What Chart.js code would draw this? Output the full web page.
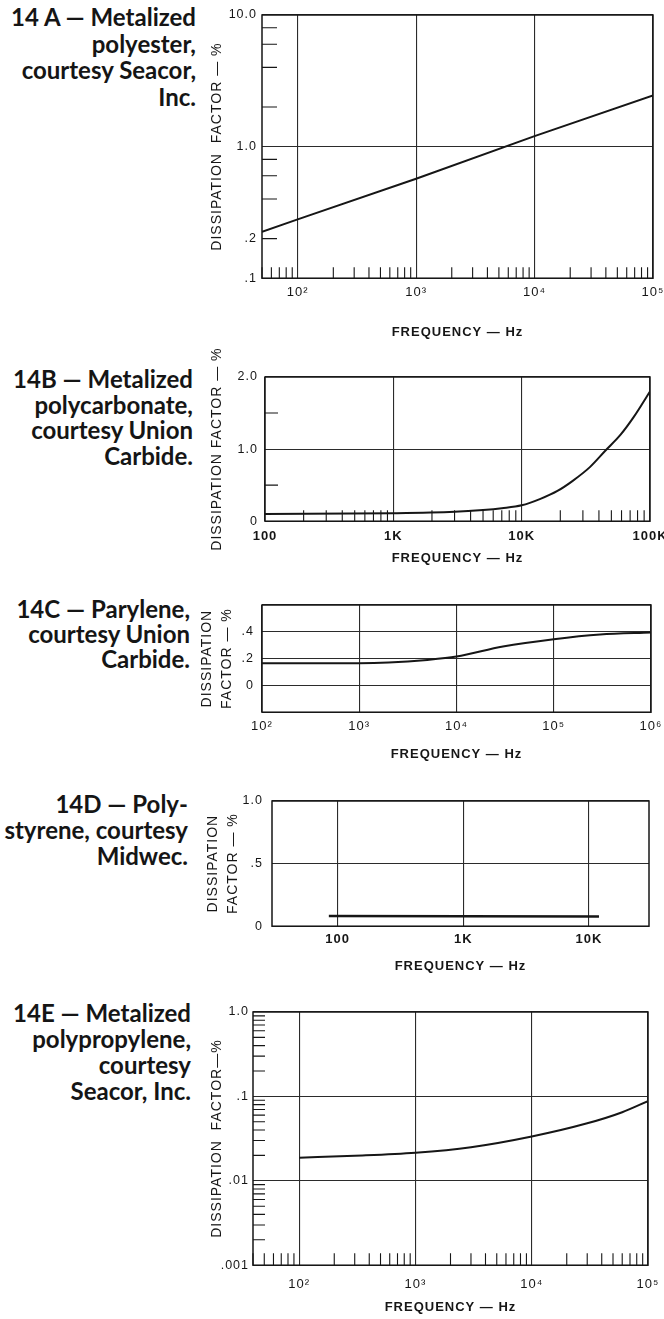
<!DOCTYPE html>
<html>
<head>
<meta charset="utf-8">
<script src="https://cdn.jsdelivr.net/npm/chart.js@4.4.1/dist/chart.umd.min.js"></script>
<style>
  html, body { margin: 0; padding: 0; background: #fff; }
  body { width: 664px; height: 1319px; position: relative; overflow: hidden; }
  .cap {
    position: absolute; left: 0; text-align: right; white-space: nowrap;
    font-family: Lato, "Open Sans", sans-serif; font-weight: 700; font-size: 24px; color: #151515;
  }
  canvas { position: absolute; left: 0; }
</style>
</head>
<body>
<div class="cap" style="top:4px;width:196px;line-height:26.7px">14 A — Metalized<br>polyester,<br>courtesy Seacor,<br>Inc.</div>
<div class="cap" style="top:366px;width:193px;line-height:25.5px">14B — Metalized<br>polycarbonate,<br>courtesy Union<br>Carbide.</div>
<div class="cap" style="top:596px;width:190px;line-height:25px">14C — Parylene,<br>courtesy Union<br>Carbide.</div>
<div class="cap" style="top:791px;width:188px;line-height:25.8px">14D — Poly-<br>styrene, courtesy<br>Midwec.</div>
<div class="cap" style="top:1000px;width:191px;line-height:25.9px">14E — Metalized<br>polypropylene,<br>courtesy<br>Seacor, Inc.</div>

<canvas id="chartA"></canvas>
<canvas id="chartB"></canvas>
<canvas id="chartC"></canvas>
<canvas id="chartD"></canvas>
<canvas id="chartE"></canvas>

<script>
// 14A - metalized polyester
const freqA = [50, 100, 1000, 10000, 100000];
const dfA = [0.225, 0.28, 0.57, 1.2, 2.45];
const xTicksA = [100, 1000, 10000, 100000];
const xLabelsA = ['10²', '10³', '10⁴', '10⁵'];
const yTicksA = [0.1, 0.2, 1, 10];
const yLabelsA = ['.1', '.2', '1.0', '10.0'];

// 14B - metalized polycarbonate
const freqB = [100, 1000, 3000, 5000, 7000, 10000, 14000, 19000, 25000, 34000, 45000, 59000, 75000, 100000];
const dfB = [0.1, 0.11, 0.13, 0.155, 0.18, 0.22, 0.31, 0.42, 0.56, 0.75, 0.98, 1.2, 1.45, 1.8];
const xTicksB = [100, 1000, 10000, 100000];
const xLabelsB = ['100', '1K', '10K', '100K'];
const yTicksB = [0, 1, 2];
const yLabelsB = ['0', '1.0', '2.0'];

// 14C - parylene
const freqC = [100, 1000, 2000, 5000, 10000, 30000, 100000, 300000, 1000000];
const dfC = [0.165, 0.165, 0.17, 0.19, 0.215, 0.29, 0.345, 0.38, 0.395];
const xTicksC = [100, 1000, 10000, 100000, 1000000];
const xLabelsC = ['10²', '10³', '10⁴', '10⁵', '10⁶'];
const yTicksC = [-0.2, 0, 0.2, 0.4, 0.6];
const yLabelsC = ['', '0', '.2', '.4', ''];

// 14D - polystyrene
const freqD = [85, 1000, 12000];
const dfD = [0.082, 0.08, 0.078];
const xTicksD = [100, 1000, 10000];
const xLabelsD = ['100', '1K', '10K'];
const yTicksD = [0, 0.5, 1];
const yLabelsD = ['0', '.5', '1.0'];

// 14E - metalized polypropylene
const freqE = [100, 300, 1000, 3000, 10000, 30000, 60000, 100000];
const dfE = [0.0188, 0.0198, 0.0215, 0.025, 0.0335, 0.048, 0.065, 0.088];
const xTicksE = [100, 1000, 10000, 100000];
const xLabelsE = ['10²', '10³', '10⁴', '10⁵'];
const yTicksE = [0.001, 0.01, 0.1, 1];
const yLabelsE = ['.001', '.01', '.1', '1.0'];

const INK = '#161616';
const GRID = '#2b2b2b';
const FONT = '"Liberation Sans", Arial, sans-serif';
const W = 664;
const PT = 30;

// 2..9 marks of every decade inside [min, max]
function logMinors(min, max) {
  const out = [];
  for (let d = Math.floor(Math.log10(min)); d < Math.ceil(Math.log10(max)); d++) {
    for (let k = 2; k <= 9; k++) {
      const v = k * Math.pow(10, d);
      if (v >= min * 0.999 && v <= max * 1.001) out.push(v);
    }
  }
  return out;
}

const framePlugin = {
  id: 'frame',
  beforeDraw(chart) {
    chart.ctx.letterSpacing = '1px';
  },
  afterDatasetsDraw(chart, args, opts) {
    const {ctx, chartArea: a, scales} = chart;
    ctx.save();
    ctx.strokeStyle = INK;
    ctx.lineWidth = 1.5;
    ctx.strokeRect(a.left, a.top, a.right - a.left, a.bottom - a.top);
    ctx.lineWidth = 1.1;
    ctx.beginPath();
    (opts.xMinor || []).forEach(v => {
      const px = scales.x.getPixelForValue(v);
      ctx.moveTo(px, a.bottom);
      ctx.lineTo(px, a.bottom - opts.xLen);
    });
    (opts.yMinor || []).forEach(v => {
      const py = scales.y.getPixelForValue(v);
      ctx.moveTo(a.left, py);
      ctx.lineTo(a.left + opts.yLen, py);
    });
    ctx.stroke();
    ctx.restore();
  }
};

function makeChart(id, c) {
  const canvas = document.getElementById(id);
  canvas.width = W;
  canvas.height = PT + (c.box.bottom - c.box.top) + c.xH;
  canvas.style.top = (c.box.top - PT) + 'px';

  return new Chart(canvas, {
    type: 'line',
    data: {
      datasets: [{
        data: c.freq.map((f, i) => ({x: f, y: c.df[i]})),
        borderColor: INK,
        borderWidth: c.lw || 2,
        pointRadius: 0,
        fill: false,
        tension: 0,
        cubicInterpolationMode: c.smooth ? 'monotone' : 'default'
      }]
    },
    options: {
      responsive: false,
      animation: false,
      layout: {padding: {left: c.box.left - c.yW, right: W - c.box.right, top: PT, bottom: 0}},
      plugins: {
        legend: {display: false},
        tooltip: {enabled: false},
        frame: {xMinor: c.xMinor, xLen: c.xLen, yMinor: c.yMinor, yLen: c.yLen}
      },
      scales: {
        x: {
          type: 'logarithmic',
          min: c.xMin,
          max: c.xMax,
          afterBuildTicks: s => { s.ticks = c.xTicks.map(v => ({value: v})); },
          afterFit: s => { s.height = c.xH; s.paddingLeft = 0; s.paddingRight = 0; },
          grid: {color: GRID, lineWidth: 1.1, drawTicks: false},
          border: {display: false},
          ticks: {
            autoSkip: false, maxRotation: 0, padding: c.xPad, color: INK,
            font: {family: FONT, size: 13, lineHeight: 1.2, weight: c.xBold ? 'bold' : 'normal'},
            callback: (v, i) => c.xLabels[i]
          },
          title: {
            display: true, text: c.xTitle || 'FREQUENCY — Hz', color: INK, padding: 0,
            font: {family: FONT, size: 13, lineHeight: 1.2, weight: 'bold'}
          }
        },
        y: {
          type: c.yType,
          min: c.yMin,
          max: c.yMax,
          afterBuildTicks: s => { s.ticks = c.yTicks.map(v => ({value: v})); },
          afterFit: s => { s.width = c.yW; s.paddingTop = 0; s.paddingBottom = 0; },
          grid: {
            color: ctx => (ctx.tick && (c.yNoGrid || []).includes(ctx.tick.value)) ? 'rgba(0,0,0,0)' : GRID,
            lineWidth: 1.1,
            drawTicks: false
          },
          border: {display: false},
          ticks: {
            autoSkip: false, padding: c.yPad, color: INK,
            font: {family: FONT, size: 12.5},
            callback: (v, i) => c.yLabels[i]
          },
          title: {
            display: true, text: c.yTitle, color: INK, padding: 0,
            font: {family: FONT, size: 14, lineHeight: c.yTitleLH || 1.2}
          }
        }
      }
    },
    plugins: [framePlugin]
  });
}

makeChart('chartA', {
  box: {left: 262, right: 653, top: 15, bottom: 279},
  freq: freqA, df: dfA,
  xMin: 50, xMax: 100000, xTicks: xTicksA, xLabels: xLabelsA,
  yType: 'logarithmic', yMin: 0.1, yMax: 10, yTicks: yTicksA, yLabels: yLabelsA, yNoGrid: [0.2],
  xMinor: logMinors(50, 100000), xLen: 11,
  yMinor: [0.2, 0.4, 0.6, 0.8, 2, 4, 6, 8], yLen: 15,
  yTitle: 'DISSIPATION  FACTOR — %',
  yW: 53.4, yPad: 5, xPad: 6.2, xH: 61.8
});

makeChart('chartB', {
  box: {left: 265, right: 650, top: 377, bottom: 522},
  freq: freqB, df: dfB, smooth: true,
  xMin: 100, xMax: 100000, xTicks: xTicksB, xLabels: xLabelsB, xBold: true,
  yType: 'linear', yMin: 0, yMax: 2, yTicks: yTicksB, yLabels: yLabelsB,
  xMinor: logMinors(100, 100000), xLen: 11,
  yMinor: [0.5, 1.5], yLen: 13,
  yTitle: 'DISSIPATION FACTOR — %',
  yW: 56.7, yPad: 7, xPad: 7.2, xH: 44.8
});

makeChart('chartC', {
  box: {left: 262, right: 651, top: 605, bottom: 713},
  freq: freqC, df: dfC, smooth: true,
  xMin: 100, xMax: 1000000, xTicks: xTicksC, xLabels: xLabelsC,
  yType: 'linear', yMin: -0.2, yMax: 0.6, yTicks: yTicksC, yLabels: yLabelsC,
  yTitle: ['DISSIPATION', 'FACTOR — %'], yTitleLH: 1.43,
  yW: 65.3, yPad: 8, xPad: 6.2, xH: 49.8
});

makeChart('chartD', {
  box: {left: 272, right: 649, top: 801, bottom: 926.5},
  freq: freqD, df: dfD, lw: 2.5,
  xMin: 30, xMax: 30000, xTicks: xTicksD, xLabels: xLabelsD, xBold: true,
  yType: 'linear', yMin: 0, yMax: 1, yTicks: yTicksD, yLabels: yLabelsD,
  yTitle: ['DISSIPATION', 'FACTOR — %'], yTitleLH: 1.43,
  yW: 69, yPad: 9, xPad: 5.2, xH: 47.8
});

makeChart('chartE', {
  box: {left: 253, right: 648, top: 1012, bottom: 1266},
  freq: freqE, df: dfE, smooth: true,
  xMin: 40, xMax: 100000, xTicks: xTicksE, xLabels: xLabelsE,
  yType: 'logarithmic', yMin: 0.001, yMax: 1, yTicks: yTicksE, yLabels: yLabelsE,
  xMinor: logMinors(40, 100000), xLen: 12,
  yMinor: logMinors(0.001, 1), yLen: 12,
  yTitle: 'DISSIPATION  FACTOR—%',
  yW: 44.7, yPad: 4, xPad: 11.2, xH: 49.8
});
</script>
</body>
</html>
